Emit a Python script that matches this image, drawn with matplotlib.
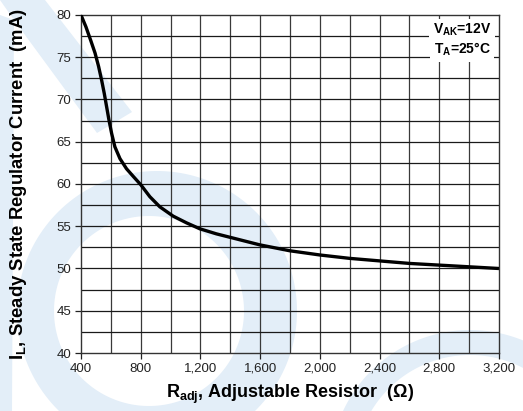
import numpy as np
import matplotlib.pyplot as plt
from matplotlib.patches import Polygon

# data
r_adj = [400, 433, 465, 494, 518, 538, 556, 572, 587, 605, 627, 661, 705, 750,
         801, 861, 928, 1017, 1107, 1196, 1307, 1419, 1597, 1798, 2000, 2199,
         2400, 2600, 2800, 3000, 3200]
i_l = [80.0, 78.6, 77.0, 75.5, 73.9, 72.3, 70.7, 69.1, 67.6, 66.0, 64.4, 63.0,
       61.8, 60.9, 59.9, 58.5, 57.3, 56.2, 55.4, 54.7, 54.1, 53.6, 52.8, 52.1,
       51.6, 51.2, 50.9, 50.6, 50.4, 50.2, 50.0]

x_ticks = [400, 800, 1200, 1600, 2000, 2400, 2800, 3200]
x_tick_labels = ["400", "800", "1,200", "1,600", "2,000", "2,400", "2,800", "3,200"]
y_ticks = [40, 45, 50, 55, 60, 65, 70, 75, 80]

plt.rcParams['font.family'] = ['Liberation Sans', 'DejaVu Sans']
plt.rcParams['mathtext.fontset'] = 'custom'
plt.rcParams['mathtext.rm'] = 'Liberation Sans:bold'
plt.rcParams['mathtext.bf'] = 'Liberation Sans:bold'
plt.rcParams['mathtext.it'] = 'Liberation Sans:bold'

W, H = 523, 411
fig = plt.figure(figsize=(W / 100, H / 100), dpi=100)

# faint logo watermark behind the chart (pixel coords, y pointing down)
bg = fig.add_axes([0, 0, 1, 1], zorder=0)
bg.set_xlim(0, W)
bg.set_ylim(H, 0)
bg.axis('off')
wm = '#e3eef8'


def ring(c_out, r_out, c_in, r_in, t0, t1):
    t = np.linspace(np.radians(t0), np.radians(t1), 180)
    outer = np.c_[c_out[0] + r_out * np.cos(t), c_out[1] - r_out * np.sin(t)]
    inner = np.c_[c_in[0] + r_in * np.cos(t), c_in[1] - r_in * np.sin(t)][::-1]
    return Polygon(np.vstack([outer, inner]), closed=True, color=wm, lw=0)


bg.add_patch(ring((157, 311), 140, (149, 311), 95, 0, 360))
bg.add_patch(ring((470, 470), 140, (470, 470), 115, 20, 180))
bg.add_patch(Polygon([(0, 0), (45, 0), (132, 112), (97, 133), (14, 20)],
                     closed=True, color=wm, lw=0))
bg.add_patch(Polygon([(0, 15), (14, 20), (12, 411), (0, 411)],
                     closed=True, color=wm, lw=0))

ax = fig.add_axes([81 / W, 1 - 353 / H, (499 - 81) / W, (353 - 15) / H], zorder=1)
ax.patch.set_alpha(0)

# grid every 200 ohm and every 2.5 mA
for xv in np.arange(600, 3200, 200):
    ax.axvline(xv, color='#3a3a3a', lw=0.9, zorder=1)
for yv in np.arange(42.5, 80, 2.5):
    ax.axhline(yv, color='#1a1a1a', lw=0.9, zorder=1)

ax.plot(r_adj, i_l, color='black', lw=2.4, solid_capstyle='butt', zorder=3)

ax.set_xlim(400, 3200)
ax.set_ylim(40, 80)
ax.set_xticks(x_ticks)
ax.set_xticklabels(x_tick_labels)
ax.set_yticks(y_ticks)
ax.tick_params(axis='both', labelsize=9.5, colors='#222222', length=4, width=0.9, pad=3)
for s in ax.spines.values():
    s.set_color('#333333')
    s.set_linewidth(1.0)

ax.set_xlabel(r'R$_{\mathrm{adj}}$, Adjustable Resistor  ($\Omega$)',
              fontsize=13, fontweight='bold', labelpad=6)
ax.set_ylabel(r'I$_{\mathrm{L}}$, Steady State Regulator Current  (mA)',
              fontsize=13.3, fontweight='bold')
ax.yaxis.set_label_coords(-0.125, 0.5)

box = dict(facecolor='white', edgecolor='none', pad=2.5)
ax.text(2952, 78.2, r'V$_{\mathrm{AK}}$=12V', ha='center', va='center', fontsize=10,
        fontweight='bold', zorder=4, bbox=box)
ax.text(2952, 75.9, r'T$_{\mathrm{A}}$=25°C', ha='center', va='center', fontsize=10,
        fontweight='bold', zorder=4, bbox=box)

fig.savefig('out.png', dpi=100)
